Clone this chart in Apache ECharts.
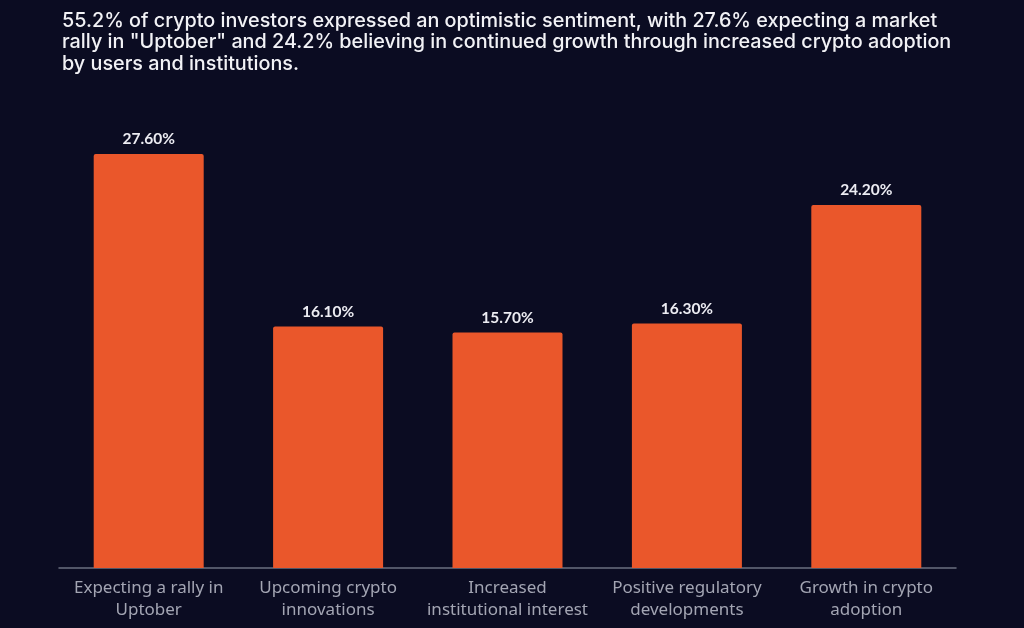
<!DOCTYPE html>
<html><head><meta charset="utf-8">
<script src="https://cdn.jsdelivr.net/npm/echarts@6/dist/echarts.min.js"></script>
<style>html,body{margin:0;padding:0;background:#0b0c22;}#c{width:1024px;height:628px;}</style>
</head><body><div id="c"></div>
<script>
const categories = ["Expecting a rally in\nUptober", "Upcoming crypto\ninnovations", "Increased\ninstitutional interest", "Positive regulatory\ndevelopments", "Growth in crypto\nadoption"];
const values = [27.6, 16.1, 15.7, 16.3, 24.2];
const titleText = "55.2% of crypto investors expressed an optimistic sentiment, with 27.6% expecting a market\nrally in \"Uptober\" and 24.2% believing in continued growth through increased crypto adoption\nby users and institutions.";

const chart = echarts.init(document.getElementById('c'));
chart.setOption({
  backgroundColor: '#0b0c22',
  animation: false,
  title: {
    text: titleText, left: 57, top: 5,
    textStyle: { color: '#f2f2f6', fontFamily: 'Inter', fontSize: 19.8, fontWeight: 500, lineHeight: 21.5 }
  },
  grid: { left: 59, right: 68, top: 118, bottom: 60 },
  xAxis: {
    type: 'category', data: categories,
    axisLine: { lineStyle: { color: '#6b6f80', width: 1.5 } },
    axisTick: { show: false },
    axisLabel: { color: '#a3a5b3', fontFamily: 'Noto Sans', fontSize: 17, lineHeight: 22, margin: 9, interval: 0 }
  },
  yAxis: { type: 'value', min: 0, max: 30, show: false, splitLine: { show: false } },
  series: [{
    type: 'bar', data: values, barWidth: 110,
    itemStyle: { color: '#ea572b', borderRadius: [2, 2, 0, 0] },
    label: {
      show: true, position: 'top', distance: 7,
      formatter: p => p.value.toFixed(2) + '%',
      color: '#ececf2', fontFamily: 'Lato', fontWeight: 'bold', fontSize: 15.5
    }
  }]
});
</script></body></html>
